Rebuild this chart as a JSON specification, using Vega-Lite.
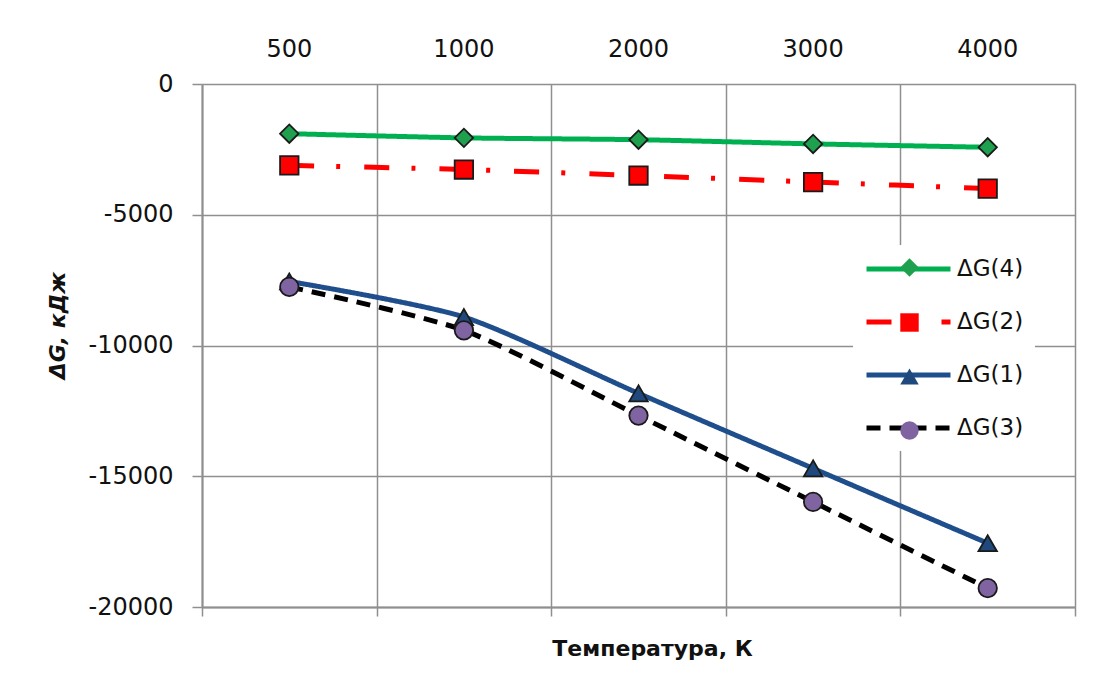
{
  "$schema": "https://vega.github.io/schema/vega-lite/v6.json",
  "width": 873,
  "height": 523,
  "autosize": {"type": "none"},
  "padding": {"left": 202, "top": 84, "right": 30, "bottom": 74},
  "background": "white",
  "config": {"view": {"stroke": null}, "font": "DejaVu Sans"},
  "data": {
    "values": [
      {"T": "500", "s": "ΔG(4)", "m": "ΔG(4) ", "v": -1900},
      {"T": "1000", "s": "ΔG(4)", "m": "ΔG(4) ", "v": -2060},
      {"T": "2000", "s": "ΔG(4)", "m": "ΔG(4) ", "v": -2130},
      {"T": "3000", "s": "ΔG(4)", "m": "ΔG(4) ", "v": -2290},
      {"T": "4000", "s": "ΔG(4)", "m": "ΔG(4) ", "v": -2420},
      {"T": "500", "s": "ΔG(2)", "m": "ΔG(2) ", "v": -3110},
      {"T": "1000", "s": "ΔG(2)", "m": "ΔG(2) ", "v": -3270},
      {"T": "2000", "s": "ΔG(2)", "m": "ΔG(2) ", "v": -3500},
      {"T": "3000", "s": "ΔG(2)", "m": "ΔG(2) ", "v": -3750},
      {"T": "4000", "s": "ΔG(2)", "m": "ΔG(2) ", "v": -4000},
      {"T": "500", "s": "ΔG(1)", "m": "ΔG(1) ", "v": -7550},
      {"T": "1000", "s": "ΔG(1)", "m": "ΔG(1) ", "v": -8910},
      {"T": "2000", "s": "ΔG(1)", "m": "ΔG(1) ", "v": -11830},
      {"T": "3000", "s": "ΔG(1)", "m": "ΔG(1) ", "v": -14700},
      {"T": "4000", "s": "ΔG(1)", "m": "ΔG(1) ", "v": -17560},
      {"T": "500", "s": "ΔG(3)", "m": "ΔG(3) ", "v": -7760},
      {"T": "1000", "s": "ΔG(3)", "m": "ΔG(3) ", "v": -9420},
      {"T": "2000", "s": "ΔG(3)", "m": "ΔG(3) ", "v": -12680},
      {"T": "3000", "s": "ΔG(3)", "m": "ΔG(3) ", "v": -15980},
      {"T": "4000", "s": "ΔG(3)", "m": "ΔG(3) ", "v": -19280}
    ]
  },
  "resolve": {"scale": {"x": "shared"}, "axis": {"x": "independent"}},
  "layer": [
    {
      "mark": {"type": "line", "interpolate": "cardinal", "tension": 0.3, "strokeWidth": 5},
      "encoding": {
        "x": {
          "field": "T", "type": "ordinal",
          "sort": ["500", "1000", "2000", "3000", "4000"],
          "scale": {"paddingInner": 0, "paddingOuter": 0},
          "axis": {
            "orient": "top", "title": null, "domain": false, "ticks": false, "tickSize": 0,
            "grid": false, "labelAngle": 0, "labelFont": "DejaVu Sans", "labelFontSize": 24,
            "labelColor": "#111111", "labelPadding": 23
          }
        },
        "y": {
          "field": "v", "type": "quantitative",
          "scale": {"domain": [-20000, 0], "nice": false},
          "axis": {
            "values": [-20000, -15000, -10000, -5000, 0],
            "labelExpr": "'' + datum.value",
            "grid": true, "gridColor": "#8f8f8f", "gridWidth": 1.5,
            "domain": true, "domainColor": "#8f8f8f", "domainWidth": 2,
            "ticks": true, "tickSize": 10, "tickColor": "#8f8f8f", "tickWidth": 1.5,
            "labelFont": "DejaVu Sans", "labelFontSize": 24, "labelColor": "#111111", "labelPadding": 19,
            "title": "ΔG, кДж", "titleFont": "DejaVu Sans", "titleFontSize": 22,
            "titleFontWeight": "bold", "titleFontStyle": "italic", "titleColor": "#111111",
            "titleX": -145, "titleY": 241, "titleBaseline": "middle", "titleAngle": 270
          }
        },
        "color": {
          "field": "s", "type": "nominal",
          "scale": {"domain": ["ΔG(4)", "ΔG(2)", "ΔG(1)", "ΔG(3)"], "range": ["#00B050", "#FF0000", "#1F4E8C", "#000000"]},
          "legend": {
            "title": null, "orient": "none", "legendX": 651, "legendY": 161,
            "fillColor": "white", "padding": 11,
            "symbolType": "M-1,0L7,0", "symbolSize": 441, "symbolStrokeWidth": 5,
            "labelFont": "DejaVu Sans", "labelFontSize": 23, "labelColor": "#111111",
            "rowPadding": 28, "labelOffset": 67
          }
        },
        "strokeDash": {
          "field": "s", "type": "nominal",
          "scale": {"domain": ["ΔG(4)", "ΔG(2)", "ΔG(1)", "ΔG(3)"], "range": [[1, 0], [25, 22, 4, 24], [1, 0], [14, 9]]},
          "legend": {
            "title": null, "orient": "none", "legendX": 651, "legendY": 161,
            "fillColor": "white", "padding": 11,
            "symbolType": "M-1,0L7,0", "symbolSize": 441, "symbolStrokeWidth": 5,
            "labelFont": "DejaVu Sans", "labelFontSize": 23, "labelColor": "#111111",
            "rowPadding": 28, "labelOffset": 67
          }
        }
      }
    },
    {
      "mark": {"type": "point", "filled": true, "opacity": 1, "stroke": "#1a1a1a", "strokeWidth": 1.8, "size": 340},
      "encoding": {
        "x": {
          "field": "T", "type": "ordinal",
          "sort": ["500", "1000", "2000", "3000", "4000"],
          "axis": {
            "orient": "bottom", "labels": false, "ticks": true, "tickSize": 9, "tickColor": "#8f8f8f",
            "tickWidth": 1.5, "tickBand": "extent",
            "grid": true, "gridColor": "#8f8f8f", "gridWidth": 1.5,
            "domain": true, "domainColor": "#8f8f8f", "domainWidth": 2,
            "title": "Температура, К", "titleFont": "DejaVu Sans", "titleFontSize": 22,
            "titleFontWeight": "bold", "titleColor": "#111111",
            "titleX": 450, "titleY": 41, "titleBaseline": "middle"
          }
        },
        "y": {"field": "v", "type": "quantitative"},
        "shape": {
          "field": "m", "type": "nominal",
          "scale": {"domain": ["ΔG(4) ", "ΔG(2) ", "ΔG(1) ", "ΔG(3) "], "range": ["diamond", "square", "triangle-up", "circle"]},
          "legend": {
            "title": null, "orient": "none", "legendX": 685, "legendY": 161,
            "padding": 11, "symbolStrokeColor": "#1a1a1a", "symbolStrokeWidth": 1.8, "symbolSize": 340,
            "labelFont": "DejaVu Sans", "labelFontSize": 23, "labelColor": "transparent",
            "labelExpr": "' '",
            "rowPadding": 28, "labelOffset": 2
          }
        },
        "fill": {
          "field": "m", "type": "nominal",
          "scale": {"domain": ["ΔG(4) ", "ΔG(2) ", "ΔG(1) ", "ΔG(3) "], "range": ["#1FA04E", "#FF0000", "#1F497D", "#8064A2"]},
          "legend": {
            "title": null, "orient": "none", "legendX": 685, "legendY": 161,
            "padding": 11, "symbolStrokeColor": "#1a1a1a", "symbolStrokeWidth": 1.8, "symbolSize": 340,
            "labelFont": "DejaVu Sans", "labelFontSize": 23, "labelColor": "transparent",
            "labelExpr": "' '",
            "rowPadding": 28, "labelOffset": 2
          }
        }
      }
    }
  ]
}
